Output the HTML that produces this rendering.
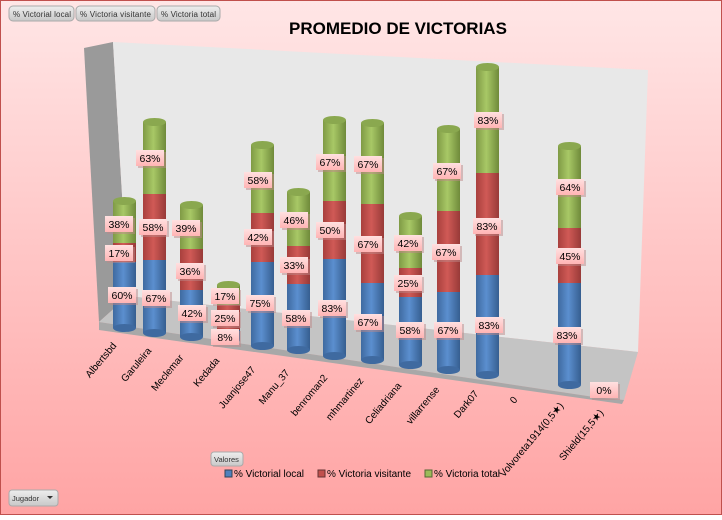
<!DOCTYPE html>
<html><head><meta charset="utf-8"><style>
body{margin:0;width:722px;height:515px;overflow:hidden;font-family:"Liberation Sans",sans-serif}
</style></head><body>
<svg width="722" height="515" xmlns="http://www.w3.org/2000/svg" font-family="Liberation Sans, sans-serif">
<defs>
<linearGradient id="bg" x1="0" y1="0" x2="0" y2="1"><stop offset="0" stop-color="#ffe6e6"/><stop offset="1" stop-color="#ffa4a4"/></linearGradient>
<linearGradient id="gG" x1="0" x2="1"><stop offset="0" stop-color="#7f9a45"/><stop offset=".45" stop-color="#a8c866"/><stop offset="1" stop-color="#6f8a3a"/></linearGradient>
<linearGradient id="gR" x1="0" x2="1"><stop offset="0" stop-color="#a8403d"/><stop offset=".45" stop-color="#d05a56"/><stop offset="1" stop-color="#983a38"/></linearGradient>
<linearGradient id="gB" x1="0" x2="1"><stop offset="0" stop-color="#3f6aa0"/><stop offset=".45" stop-color="#5b8fcf"/><stop offset="1" stop-color="#365e90"/></linearGradient>
<linearGradient id="lb" x1="0" y1="0" x2="0" y2="1"><stop offset="0" stop-color="#ffe0e0"/><stop offset="1" stop-color="#ffb4b4"/></linearGradient>
<linearGradient id="btn" x1="0" y1="0" x2="0" y2="1"><stop offset="0" stop-color="#eee"/><stop offset="1" stop-color="#c8c8c8"/></linearGradient>
<g id="l"><rect x="-14" y="-8" width="28" height="16" fill="#b88" opacity=".5" transform="translate(2,2)"/><rect x="-14" y="-8" width="28" height="16" fill="url(#lb)"/></g>
</defs>
<rect x="0.5" y="0.5" width="721" height="514" fill="url(#bg)" stroke="#c0504d"/>
<polygon points="84,48 113,42 128,296 99,322" fill="#9a9a9a"/>
<polygon points="113,42 648,70 638,352 128,296" fill="#e8e8e8"/>
<polygon points="99,322 128,296 638,352 624,400 594,397" fill="#c4c4c4"/>
<polygon points="99,322 594,397 624,400 622,404 99,330" fill="#a8a8a8"/>
<text x="398" y="34" font-size="17" font-weight="bold" text-anchor="middle" fill="#000">PROMEDIO DE VICTORIAS</text>
<g>
<g>
<rect x="113" y="262" width="23" height="66" fill="url(#gB)"/><ellipse cx="124.5" cy="328" rx="11.5" ry="4" fill="#3f6aa0"/>
<rect x="113" y="243" width="23" height="19" fill="url(#gR)"/>
<rect x="113" y="201" width="23" height="42" fill="url(#gG)"/><ellipse cx="124.5" cy="201" rx="11.5" ry="4" fill="#8aa84f"/>
</g>
<g>
<rect x="143" y="260" width="23" height="73" fill="url(#gB)"/><ellipse cx="154.5" cy="333" rx="11.5" ry="4" fill="#3f6aa0"/>
<rect x="143" y="194" width="23" height="66" fill="url(#gR)"/>
<rect x="143" y="122" width="23" height="72" fill="url(#gG)"/><ellipse cx="154.5" cy="122" rx="11.5" ry="4" fill="#8aa84f"/>
</g>
<g>
<rect x="180" y="290" width="23" height="47" fill="url(#gB)"/><ellipse cx="191.5" cy="337" rx="11.5" ry="4" fill="#3f6aa0"/>
<rect x="180" y="249" width="23" height="41" fill="url(#gR)"/>
<rect x="180" y="205" width="23" height="44" fill="url(#gG)"/><ellipse cx="191.5" cy="205" rx="11.5" ry="4" fill="#8aa84f"/>
</g>
<g>
<rect x="217" y="330" width="23" height="10" fill="url(#gB)"/><ellipse cx="228.5" cy="340" rx="11.5" ry="4" fill="#3f6aa0"/>
<rect x="217" y="305" width="23" height="25" fill="url(#gR)"/>
<rect x="217" y="285" width="23" height="20" fill="url(#gG)"/><ellipse cx="228.5" cy="285" rx="11.5" ry="4" fill="#8aa84f"/>
</g>
<g>
<rect x="251" y="262" width="23" height="84" fill="url(#gB)"/><ellipse cx="262.5" cy="346" rx="11.5" ry="4" fill="#3f6aa0"/>
<rect x="251" y="213" width="23" height="49" fill="url(#gR)"/>
<rect x="251" y="145" width="23" height="68" fill="url(#gG)"/><ellipse cx="262.5" cy="145" rx="11.5" ry="4" fill="#8aa84f"/>
</g>
<g>
<rect x="287" y="284" width="23" height="66" fill="url(#gB)"/><ellipse cx="298.5" cy="350" rx="11.5" ry="4" fill="#3f6aa0"/>
<rect x="287" y="246" width="23" height="38" fill="url(#gR)"/>
<rect x="287" y="192" width="23" height="54" fill="url(#gG)"/><ellipse cx="298.5" cy="192" rx="11.5" ry="4" fill="#8aa84f"/>
</g>
<g>
<rect x="323" y="259" width="23" height="97" fill="url(#gB)"/><ellipse cx="334.5" cy="356" rx="11.5" ry="4" fill="#3f6aa0"/>
<rect x="323" y="201" width="23" height="58" fill="url(#gR)"/>
<rect x="323" y="120" width="23" height="81" fill="url(#gG)"/><ellipse cx="334.5" cy="120" rx="11.5" ry="4" fill="#8aa84f"/>
</g>
<g>
<rect x="361" y="283" width="23" height="77" fill="url(#gB)"/><ellipse cx="372.5" cy="360" rx="11.5" ry="4" fill="#3f6aa0"/>
<rect x="361" y="204" width="23" height="79" fill="url(#gR)"/>
<rect x="361" y="123" width="23" height="81" fill="url(#gG)"/><ellipse cx="372.5" cy="123" rx="11.5" ry="4" fill="#8aa84f"/>
</g>
<g>
<rect x="399" y="297" width="23" height="68" fill="url(#gB)"/><ellipse cx="410.5" cy="365" rx="11.5" ry="4" fill="#3f6aa0"/>
<rect x="399" y="268" width="23" height="29" fill="url(#gR)"/>
<rect x="399" y="216" width="23" height="52" fill="url(#gG)"/><ellipse cx="410.5" cy="216" rx="11.5" ry="4" fill="#8aa84f"/>
</g>
<g>
<rect x="437" y="292" width="23" height="78" fill="url(#gB)"/><ellipse cx="448.5" cy="370" rx="11.5" ry="4" fill="#3f6aa0"/>
<rect x="437" y="211" width="23" height="81" fill="url(#gR)"/>
<rect x="437" y="129" width="23" height="82" fill="url(#gG)"/><ellipse cx="448.5" cy="129" rx="11.5" ry="4" fill="#8aa84f"/>
</g>
<g>
<rect x="476" y="275" width="23" height="100" fill="url(#gB)"/><ellipse cx="487.5" cy="375" rx="11.5" ry="4" fill="#3f6aa0"/>
<rect x="476" y="173" width="23" height="102" fill="url(#gR)"/>
<rect x="476" y="67" width="23" height="106" fill="url(#gG)"/><ellipse cx="487.5" cy="67" rx="11.5" ry="4" fill="#8aa84f"/>
</g>
<g>
<rect x="558" y="283" width="23" height="102" fill="url(#gB)"/><ellipse cx="569.5" cy="385" rx="11.5" ry="4" fill="#3f6aa0"/>
<rect x="558" y="228" width="23" height="55" fill="url(#gR)"/>
<rect x="558" y="146" width="23" height="82" fill="url(#gG)"/><ellipse cx="569.5" cy="146" rx="11.5" ry="4" fill="#8aa84f"/>
</g>
<ellipse cx="607" cy="388" rx="10" ry="3" fill="#6f8a3a"/>
</g>
<g font-size="10.5" text-anchor="middle" fill="#000">
<use href="#l" x="119" y="224"/><text x="119" y="228">38%</text>
<use href="#l" x="119" y="253"/><text x="119" y="257">17%</text>
<use href="#l" x="122" y="295"/><text x="122" y="299">60%</text>
<use href="#l" x="150" y="158"/><text x="150" y="162">63%</text>
<use href="#l" x="153" y="227"/><text x="153" y="231">58%</text>
<use href="#l" x="156" y="298"/><text x="156" y="302">67%</text>
<use href="#l" x="186" y="228"/><text x="186" y="232">39%</text>
<use href="#l" x="190" y="271"/><text x="190" y="275">36%</text>
<use href="#l" x="192" y="313"/><text x="192" y="317">42%</text>
<use href="#l" x="225" y="296"/><text x="225" y="300">17%</text>
<use href="#l" x="225" y="318"/><text x="225" y="322">25%</text>
<use href="#l" x="225" y="337"/><text x="225" y="341">8%</text>
<use href="#l" x="258" y="180"/><text x="258" y="184">58%</text>
<use href="#l" x="258" y="237"/><text x="258" y="241">42%</text>
<use href="#l" x="260" y="303"/><text x="260" y="307">75%</text>
<use href="#l" x="294" y="220"/><text x="294" y="224">46%</text>
<use href="#l" x="294" y="265"/><text x="294" y="269">33%</text>
<use href="#l" x="296" y="318"/><text x="296" y="322">58%</text>
<use href="#l" x="330" y="162"/><text x="330" y="166">67%</text>
<use href="#l" x="330" y="230"/><text x="330" y="234">50%</text>
<use href="#l" x="332" y="308"/><text x="332" y="312">83%</text>
<use href="#l" x="368" y="164"/><text x="368" y="168">67%</text>
<use href="#l" x="368" y="244"/><text x="368" y="248">67%</text>
<use href="#l" x="368" y="322"/><text x="368" y="326">67%</text>
<use href="#l" x="408" y="243"/><text x="408" y="247">42%</text>
<use href="#l" x="408" y="283"/><text x="408" y="287">25%</text>
<use href="#l" x="410" y="330"/><text x="410" y="334">58%</text>
<use href="#l" x="447" y="171"/><text x="447" y="175">67%</text>
<use href="#l" x="446" y="252"/><text x="446" y="256">67%</text>
<use href="#l" x="448" y="330"/><text x="448" y="334">67%</text>
<use href="#l" x="488" y="120"/><text x="488" y="124">83%</text>
<use href="#l" x="487" y="226"/><text x="487" y="230">83%</text>
<use href="#l" x="489" y="325"/><text x="489" y="329">83%</text>
<use href="#l" x="570" y="187"/><text x="570" y="191">64%</text>
<use href="#l" x="570" y="256"/><text x="570" y="260">45%</text>
<use href="#l" x="567" y="335"/><text x="567" y="339">83%</text>
<use href="#l" x="604" y="390"/><text x="604" y="394">0%</text>
</g>
<g font-size="10" text-anchor="end" fill="#000">
<text transform="translate(117,346) rotate(-50)">Albertsbd</text>
<text transform="translate(152,351) rotate(-50)">Garuleira</text>
<text transform="translate(184,358) rotate(-50)">Meclemar</text>
<text transform="translate(220,361) rotate(-50)">Kedada</text>
<text transform="translate(256,370) rotate(-50)">Juanjose47</text>
<text transform="translate(290,373) rotate(-50)">Manu_37</text>
<text transform="translate(328,378) rotate(-50)">benroman2</text>
<text transform="translate(364,381) rotate(-50)">mhmartinez</text>
<text transform="translate(402,386) rotate(-50)">Celiadriana</text>
<text transform="translate(440,390) rotate(-50)">villarrense</text>
<text transform="translate(479,394) rotate(-50)">Dark07</text>
<text transform="translate(518,400) rotate(-50)">0</text>
<text transform="translate(564,406) rotate(-50)">Volvoreta1914(0,5★)</text>
<text transform="translate(604,413) rotate(-50)">Shield(15,5★)</text>
</g>
<g font-size="8" fill="#333">
<rect x="9" y="6" width="65" height="15" rx="4" fill="url(#btn)" stroke="#aaa"/><text x="13" y="17" textLength="58">% Victorial local</text>
<rect x="76" y="6" width="79" height="15" rx="4" fill="url(#btn)" stroke="#aaa"/><text x="80" y="17" textLength="71">% Victoria visitante</text>
<rect x="157" y="6" width="63" height="15" rx="4" fill="url(#btn)" stroke="#aaa"/><text x="161" y="17" textLength="55">% Victoria total</text>
<rect x="211" y="452" width="32" height="14" rx="3" fill="url(#btn)" stroke="#aaa"/><text x="214" y="462" font-size="7.5">Valores</text>
<rect x="9" y="490" width="49" height="16" rx="3" fill="url(#btn)" stroke="#aaa"/><text x="12" y="501" font-size="7.5">Jugador</text>
<polygon points="47,496 53,496 50,499" fill="#333"/>
</g>
<g font-size="10" fill="#000">
<rect x="225" y="470" width="7" height="7" fill="#4f81bd" stroke="#345"/><text x="234" y="477" textLength="70">% Victorial local</text>
<rect x="318" y="470" width="7" height="7" fill="#c0504d" stroke="#633"/><text x="327" y="477" textLength="84">% Victoria visitante</text>
<rect x="425" y="470" width="7" height="7" fill="#9bbb59" stroke="#563"/><text x="434" y="477" textLength="66">% Victoria total</text>
</g>
</svg>
</body></html>
